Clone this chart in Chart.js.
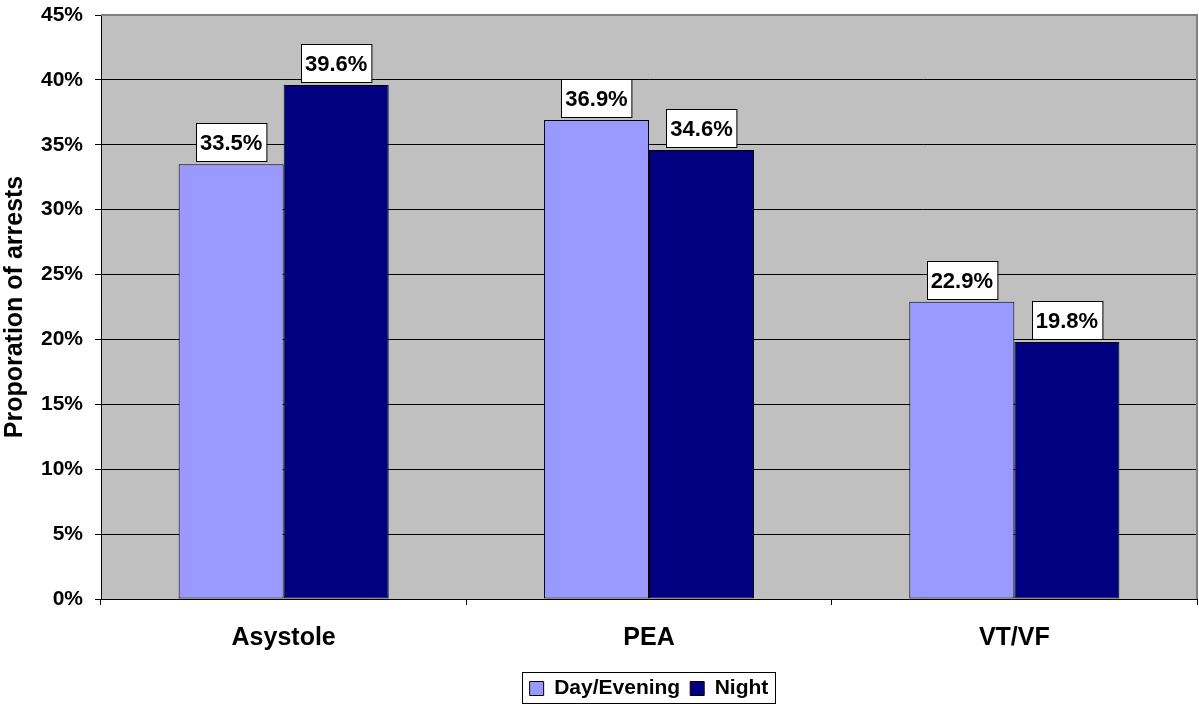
<!DOCTYPE html>
<html>
<head>
<meta charset="utf-8">
<script src="https://cdn.jsdelivr.net/npm/chart.js@4"></script>
<style>
  html, body { margin:0; padding:0; background:#fff; }
  #wrap { width:1199px; height:709px; position:relative; }
</style>
</head>
<body>
<div id="wrap"><canvas id="chart-arrests"></canvas></div>
<script>
// ===== DATA =====
const rhythms = ['Asystole', 'PEA', 'VT/VF'];
const dayEvening = [33.5, 36.9, 22.9];
const night = [39.6, 34.6, 19.8];
const seriesNames = ['Day/Evening', 'Night'];
const yTicksMax = 45;
const yTicksStep = 5;

const FONT = "Arial, 'Liberation Sans', sans-serif";

// fond gris + bordure haute/droite de la zone de tracé
const plotBg = {
  id: 'plotBg',
  beforeDraw(chart) {
    const a = chart.chartArea, c = chart.ctx;
    c.save();
    c.fillStyle = '#C0C0C0';
    c.fillRect(a.left, a.top, a.right - a.left, a.bottom - a.top);
    c.restore();
  },
  afterDraw(chart) {
    const a = chart.chartArea, c = chart.ctx;
    c.save();
    c.strokeStyle = '#808080';
    c.lineWidth = 2;
    c.beginPath();
    c.moveTo(a.left, a.top);
    c.lineTo(a.right, a.top);
    c.lineTo(a.right, a.bottom);
    c.stroke();
    c.restore();
  }
};

// étiquettes de valeur dans un cadre blanc au-dessus des barres
const valueBoxes = {
  id: 'valueBoxes',
  afterDatasetsDraw(chart) {
    const c = chart.ctx;
    c.save();
    c.font = 'bold 22px ' + FONT;
    c.textAlign = 'center';
    c.textBaseline = 'middle';
    chart.data.datasets.forEach((ds, di) => {
      chart.getDatasetMeta(di).data.forEach((bar, i) => {
        const txt = ds.data[i].toFixed(1) + '%';
        const w = c.measureText(txt).width + 8, h = 38;
        const x = Math.round(bar.x - w / 2) + 0.5, y = Math.round(bar.y - 3 - h) + 0.5;
        c.fillStyle = '#fff';
        c.fillRect(x, y, w, h);
        c.strokeStyle = '#000';
        c.lineWidth = 1;
        c.strokeRect(x, y, w, h);
        c.fillStyle = '#000';
        c.fillText(txt, bar.x, y + h / 2 + 1);
      });
    });
    c.restore();
  }
};

// cadre autour de la légende
const legendFrame = {
  id: 'legendFrame',
  afterDraw(chart) {
    const boxes = chart.legend && chart.legend.legendHitBoxes;
    if (!boxes || !boxes.length) return;
    const minX = Math.min(...boxes.map(b => b.left));
    const maxX = Math.max(...boxes.map(b => b.left + b.width));
    const minY = Math.min(...boxes.map(b => b.top));
    const maxY = Math.max(...boxes.map(b => b.top + b.height));
    const c = chart.ctx;
    c.save();
    c.strokeStyle = '#000';
    c.lineWidth = 1;
    c.strokeRect(Math.round(minX - 8) + 0.5, Math.round(minY - 6) + 0.5, Math.round(maxX - minX + 14), Math.round(maxY - minY + 10));
    c.restore();
  }
};

new Chart(document.getElementById('chart-arrests'), {
  type: 'bar',
  data: {
    labels: rhythms,
    datasets: [
      { label: seriesNames[0], data: dayEvening, backgroundColor: '#9999FF', borderColor: '#000', borderWidth: 1, borderSkipped: false, categoryPercentage: 0.575, barPercentage: 1.0 },
      { label: seriesNames[1], data: night, backgroundColor: '#000080', borderColor: '#000', borderWidth: 1, borderSkipped: false, categoryPercentage: 0.575, barPercentage: 1.0 },
    ]
  },
  options: {
    responsive: true, maintainAspectRatio: false, animation: false,
    layout: { autoPadding: false, padding: { left: 0, top: 15, right: 2, bottom: 0 } },
    plugins: {
      tooltip: { enabled: false },
      legend: {
        position: 'bottom',
        fullSize: false,
        labels: { color: '#000', font: { family: FONT, size: 21, weight: 'bold' }, boxWidth: 14, boxHeight: 14, padding: 10 }
      }
    },
    scales: {
      x: {
        grid: { display: true, drawOnChartArea: false, offset: true, tickLength: 6, color: '#000', tickColor: '#000' },
        border: { display: true, color: '#000', width: 1 },
        ticks: { color: '#000', font: { family: FONT, size: 25, weight: 'bold' }, padding: 18 },
        afterFit(s) { s.height = 69; }
      },
      y: {
        min: 0, max: yTicksMax,
        grid: { color: ctx => ctx.tick && ctx.tick.value === yTicksMax ? 'rgba(0,0,0,0)' : '#000', tickColor: '#000', tickLength: 6 },
        border: { display: true, color: '#000', width: 1 },
        // lineHeight réduit : évite la marge haute automatique au-dessus de 45%
        ticks: { stepSize: yTicksStep, color: '#000', font: { family: FONT, size: 21, weight: 'bold', lineHeight: 0.2 }, padding: 12, callback: v => v + '%' },
        title: { display: true, text: 'Proporation of arrests', color: '#000', font: { family: FONT, size: 25, weight: 'bold' }, padding: { top: 0, bottom: 0 } },
        afterFit(s) { s.width = 101; }
      }
    }
  },
  plugins: [plotBg, valueBoxes, legendFrame]
});
</script>
</body>
</html>
